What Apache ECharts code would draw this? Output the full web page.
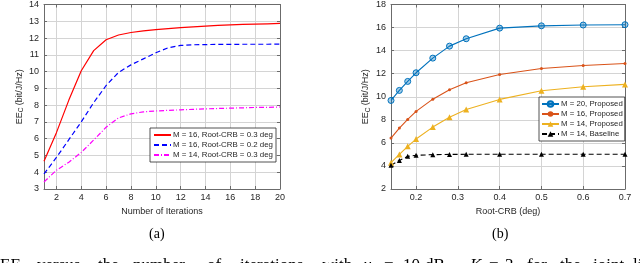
<!DOCTYPE html>
<html><head><meta charset="utf-8">
<script src="https://cdn.jsdelivr.net/npm/echarts@6/dist/echarts.min.js"></script>
<style>html,body{margin:0;padding:0;background:#fff;overflow:hidden}#c{width:640px;height:263px}</style>
</head><body><div id="c"></div>
<script>
// ---------- (a) EE vs number of iterations ----------
const iterations = [1,2,3,4,5,6,7,8,9,10,11,12,13,14,15,16,17,18,19,20];
const eeM16Crb03 = [4.65,6.36,8.3,10.05,11.25,11.9,12.18,12.33,12.43,12.5,12.56,12.62,12.67,12.71,12.75,12.78,12.81,12.83,12.85,12.87];
const eeM16Crb02 = [3.9,4.88,5.94,7.0,8.15,9.17,9.95,10.4,10.76,11.12,11.42,11.56,11.6,11.61,11.62,11.62,11.63,11.63,11.63,11.64];
const eeM14Crb03 = [3.42,4.12,4.6,5.18,5.92,6.68,7.24,7.48,7.6,7.65,7.69,7.72,7.75,7.78,7.8,7.82,7.84,7.86,7.87,7.89];
const namesA = ['M = 16, Root-CRB = 0.3 deg','M = 16, Root-CRB = 0.2 deg','M = 14, Root-CRB = 0.3 deg'];

// ---------- (b) EE vs Root-CRB ----------
const rootCrb = [0.14,0.16,0.18,0.2,0.24,0.28,0.32,0.4,0.5,0.6,0.7];
const eeM20Prop = [9.68,10.55,11.33,12.08,13.35,14.39,15.03,15.95,16.15,16.22,16.25];
const eeM16Prop = [6.42,7.28,8.03,8.73,9.79,10.6,11.21,11.93,12.45,12.71,12.89];
const eeM14Prop = [4.28,5.0,5.7,6.33,7.37,8.23,8.9,9.77,10.52,10.87,11.07];
const eeM14Base = [4.05,4.48,4.83,4.92,4.98,5.0,5.01,5.02,5.02,5.02,5.02];
const namesB = ['M = 20, Proposed','M = 16, Proposed','M = 14, Proposed','M = 14, Baseline'];

// caption words (text only) and subfigure labels
const captionWords = ['versus','the','number','of','iterations','with','γ','=','10','dB,','K','=','3','for','the','joint','li'];
const subLabels = ['(a)','(b)'];

const FONT = 'Liberation Sans, Arial, Helvetica, sans-serif';
const SERIF = 'Liberation Serif, Times New Roman, serif';
const TXT = '#262626';
const AX = '#6b6b6b';
const GRIDC = '#d4d4d4';

function pairs(xs, ys){ return xs.map((x,i)=>[x, ys[i]]); }

function xAx(gi, min, max, split, name, pos){
  const main = pos === 'bottom';
  return {
    type:'value', gridIndex:gi, position:pos, min:min, max:max, splitNumber:split,
    name: main ? name : '', nameLocation:'middle', nameGap:14,
    nameTextStyle:{fontFamily:FONT, fontSize:9, color:TXT},
    axisLine:{show:true, onZero:false, lineStyle:{color:AX, width:1}},
    axisTick:{show:true, inside:true, length:3, lineStyle:{color:AX}},
    axisLabel:{show:main, showMinLabel:false, fontFamily:FONT, fontSize:9, color:TXT, margin:4},
    splitLine:{show:main, lineStyle:{color:GRIDC, width:1}}
  };
}
function yAx(gi, min, max, interval, pos, gap){
  const main = pos === 'left';
  return {
    type:'value', gridIndex:gi, position:pos, min:min, max:max, interval:interval,
    name: main ? '{a|EE}{s|C}{a| (bit/J/Hz)}' : '', nameLocation:'middle', nameGap:gap,
    nameTextStyle:{fontFamily:FONT, fontSize:9, color:TXT,
      rich:{a:{fontFamily:FONT, fontSize:9, color:TXT, lineHeight:12, verticalAlign:'middle'},
            s:{fontFamily:FONT, fontSize:6.5, color:TXT, lineHeight:12, verticalAlign:'bottom', padding:[5,0,0,0]}}},
    axisLine:{show:true, onZero:false, lineStyle:{color:AX, width:1}},
    axisTick:{show:true, inside:true, length:3, lineStyle:{color:AX}},
    axisLabel:{show:main, fontFamily:FONT, fontSize:9, color:TXT, margin:5},
    splitLine:{show:main, lineStyle:{color:GRIDC, width:1}}
  };
}

function lineA(name, ys, color, type){
  return {type:'line', name:name, xAxisIndex:0, yAxisIndex:0, data:pairs(iterations, ys),
    symbol:'circle', showSymbol:false, symbolSize:0, silent:true, animation:false,
    itemStyle:{color:color}, lineStyle:{color:color, width:1.2, type:type}, z:3};
}
function lineB(name, ys, color, symbol, size, itemStyle, type){
  return {type:'line', name:name, xAxisIndex:2, yAxisIndex:2, data:pairs(rootCrb, ys),
    symbol:symbol, symbolSize:size, showSymbol:true, silent:true, animation:false,
    itemStyle:itemStyle, lineStyle:{color:color, width:1.1, type:type}, z:3};
}

// caption word x positions (layout only)
const captionX = [37,98,133,207,240,322,364,384,403,425,470,489,505,527,560,593,633];
const graphics = [
  {type:'text', left:149, top:227, silent:true, style:{text:subLabels[0], font:'14px ' + SERIF, fill:'#000'}},
  {type:'text', left:492, top:227, silent:true, style:{text:subLabels[1], font:'14px ' + SERIF, fill:'#000'}},
  {type:'text', left:0, top:257, silent:true,
   style:{text:'{n|EE}{s|C}', rich:{n:{fontFamily:SERIF, fontSize:17, fill:'#000'},
                                    s:{fontFamily:SERIF, fontSize:11, fill:'#000', verticalAlign:'bottom', padding:[6,0,0,0]}}}}
];
captionWords.forEach((w,i)=>{
  const ital = (w === 'K' || w === 'γ');
  graphics.push({type:'text', x:captionX[i], y:257, silent:true,
    style:{text:w, font:(ital?'italic ':'') + '17px ' + SERIF, fill:'#000', verticalAlign:'top'}});
});

const chart = echarts.init(document.getElementById('c'), null, {renderer:'canvas'});
chart.setOption({
  animation:false,
  backgroundColor:'#fff',
  textStyle:{fontFamily:FONT},
  grid:[
    {left:44, top:4, width:236, height:185, containLabel:false},
    {left:391, top:4, width:234, height:185, containLabel:false}
  ],
  xAxis:[
    xAx(0, 1, 20, 10, 'Number of Iterations', 'bottom'),
    xAx(0, 1, 20, 10, '', 'top'),
    xAx(1, 0.14, 0.7, 5, 'Root-CRB (deg)', 'bottom'),
    xAx(1, 0.14, 0.7, 5, '', 'top')
  ],
  yAxis:[
    yAx(0, 3, 14, 1, 'left', 18),
    yAx(0, 3, 14, 1, 'right', 0),
    yAx(1, 2, 18, 2, 'left', 19),
    yAx(1, 2, 18, 2, 'right', 0)
  ],
  legend:[
    {data:namesA, orient:'vertical', left:150, top:128, itemWidth:17, itemHeight:8, itemGap:0,
     padding:[2,3,2,3], backgroundColor:'#fff', borderColor:'#262626', borderWidth:0.8,
     itemStyle:{opacity:0}, selectedMode:false,
     textStyle:{fontFamily:FONT, fontSize:7.9, color:TXT, lineHeight:10, padding:[0,0,0,-3]}},
    {data:namesB, orient:'vertical', left:539, top:97, itemWidth:17, itemHeight:7, itemGap:0,
     padding:[2,2,2,2], backgroundColor:'#fff', borderColor:'#262626', borderWidth:0.8,
     selectedMode:false,
     textStyle:{fontFamily:FONT, fontSize:7.8, color:TXT, lineHeight:10, padding:[0,0,0,-3]}}
  ],
  series:[
    lineA(namesA[0], eeM16Crb03, '#ff0000', 'solid'),
    lineA(namesA[1], eeM16Crb02, '#0000ff', [5,3]),
    lineA(namesA[2], eeM14Crb03, '#ff00ff', [5,2,1,2]),
    lineB(namesB[0], eeM20Prop, '#0072BD', 'circle', 6,
      {color:'rgba(0,114,189,0.35)', borderColor:'#0072BD', borderWidth:1}, 'solid'),
    lineB(namesB[1], eeM16Prop, '#D95319', 'circle', 3,
      {color:'#D95319'}, 'solid'),
    lineB(namesB[2], eeM14Prop, '#EDB120', 'triangle', 6,
      {color:'#EDB120'}, 'solid'),
    lineB(namesB[3], eeM14Base, '#000000', 'triangle', 5,
      {color:'#000000'}, [5,3])
  ],
  graphic: graphics
});
</script>
</body></html>
